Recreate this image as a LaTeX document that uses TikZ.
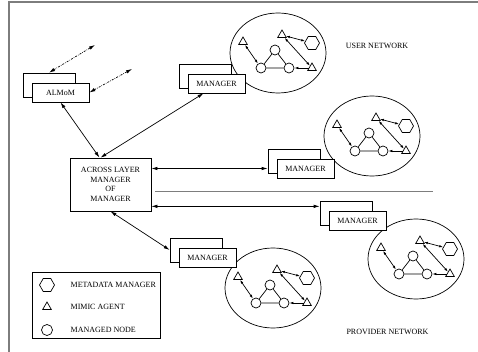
\documentclass[tikz,border=0pt]{standalone}
\usepackage{fontspec}
\setmainfont{Liberation Serif}
\usetikzlibrary{arrows.meta,shapes.geometric}
\definecolor{framegray}{RGB}{125,125,125}
\tikzstyle{backbox} = [draw, fill=white, minimum width=52pt, minimum height=24pt, inner sep=0pt]
\tikzstyle{frontbox} = [draw, fill=white, minimum width=57pt, minimum height=19pt, inner sep=0pt]
\tikzstyle{link} = [<->, >={Latex[length=6pt,width=3.5pt]}]
\tikzstyle{remote} = [<->, >={Latex[length=6pt,width=3.5pt]}, dash pattern=on 2pt off 1.2pt on 0.6pt off 1.2pt]
\tikzstyle{ilink} = [>={Latex[length=4pt,width=2.5pt]}]
\tikzstyle{mnode} = [draw, circle, minimum size=10pt, inner sep=0pt]
\tikzstyle{agent} = [draw, regular polygon, regular polygon sides=3, minimum size=10pt, inner sep=0pt]
\tikzstyle{meta} = [draw, regular polygon, regular polygon sides=6, minimum size=15pt, inner sep=0pt]

\begin{document}
\begin{tikzpicture}[x=1pt, y=-1pt, line width=0.7pt, every node/.style={font=\fontsize{8}{9.5}\selectfont}]
\useasboundingbox (0,0) rectangle (478,352);

% Frame
\draw[framegray, line width=1.3pt] (478,2) -- (9,2) -- (9,352);

% Networks
\foreach \c/\x/\y in {u1/278/53, u2/372/136, p1/416/259, p2/273/288} {
  \begin{scope}[shift={(\x,\y)}]
    \draw (0,0) ellipse (48pt and 40pt);
    \node[agent] (\c-la) at (-35,-11) {};
    \node[agent] (\c-ta) at (4,-18) {};
    \node[meta] (\c-md) at (34,-10) {};
    \node[agent] (\c-ra) at (34,15) {};
    \node[mnode] (\c-nt) at (-3,-3) {};
    \node[mnode] (\c-nl) at (-17,15) {};
    \node[mnode] (\c-nr) at (11,15) {};
    \draw (\c-nt) -- (\c-nl) -- (\c-nr) -- (\c-nt);
    \draw[ilink, <->] (\c-la) -- (\c-nl);
    \draw[ilink, <->] (\c-ta) -- (\c-md);
    \draw[ilink, <->] (\c-ta) -- (\c-ra);
    \draw[ilink, <-] (\c-nr) -- (\c-ra);
  \end{scope}
}

% Managers
\node[backbox] (almomback) at (49,85) {};
\node[frontbox] (almom) at (60.5,92.5) {ALMoM};
\node[backbox] (mgrAback) at (205,76) {};
\node[frontbox] (mgrA) at (216.5,83.5) {MANAGER};
\node[backbox] (mgrBback) at (294,161) {};
\node[frontbox] (mgrB) at (305.5,168.5) {MANAGER};
\node[backbox] (mgrCback) at (346,213) {};
\node[frontbox] (mgrC) at (357.5,220.5) {MANAGER};
\node[backbox] (mgrDback) at (196,250) {};
\node[frontbox] (mgrD) at (207.5,257.5) {MANAGER};
\node[draw, fill=white, minimum width=81pt, minimum height=53pt, inner sep=0pt, align=center] (across) at (110.5,184.5) {ACROSS LAYER\\MANAGER\\OF\\MANAGER};

% Links
\coordinate (remA) at (95,45);
\coordinate (remB) at (132,69);
\draw[remote] (almomback.north) -- (remA);
\draw[remote] (almom.east) -- (remB);
\draw[link] (almom.south) -- ([xshift=-11pt]across.north);
\draw[link] ([xshift=-13pt]mgrA.south) -- ([xshift=-10pt]across.north);
\draw[link] (across.east |- mgrB.west) -- (mgrBback.west |- mgrB.west);
\coordinate (acrossC) at ([yshift=5pt]across.south east);
\draw[link] (acrossC) -- (acrossC -| mgrCback.west);
\draw[link] (across.south) -- (mgrDback.west);

% Separator
\coordinate (sepL) at (155,192);
\coordinate (sepR) at (433,192);
\draw[framegray, line width=1pt] (sepL) -- (sepR);

% Labels
\node (usernet) at (377,46) {USER NETWORK};
\node (provnet) at (387.5,332) {PROVIDER NETWORK};

% Legend
\node[draw, minimum width=128pt, minimum height=66pt] (legend) at (96,305) {};
\node[meta] (keymeta) at (47,285) {};
\node[right] (keymetatext) at (67,285) {METADATA MANAGER};
\node[agent] (keyagent) at (47,307) {};
\node[right] (keyagenttext) at (67,307) {MIMIC AGENT};
\node[mnode, minimum size=11pt] (keynode) at (47,330) {};
\node[right] (keynodetext) at (67,330) {MANAGED NODE};
\end{tikzpicture}
\end{document}
